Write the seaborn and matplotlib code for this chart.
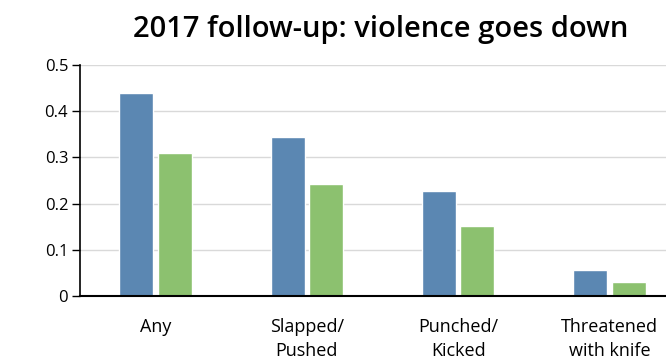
import matplotlib
matplotlib.use("Agg")
import matplotlib.pyplot as plt
import seaborn as sns
import pandas as pd

categories = ["Any", "Slapped/\nPushed", "Punched/\nKicked", "Threatened\nwith knife"]
baseline = [0.44, 0.345, 0.227, 0.057]
followup = [0.31, 0.242, 0.151, 0.030]
series_names = ["Baseline", "2017 follow-up"]
colors = ["#5B87B2", "#8CC16F"]

df = pd.DataFrame({
    "category": categories * 2,
    "value": baseline + followup,
    "series": [series_names[0]] * 4 + [series_names[1]] * 4,
})

sns.set_style("white")
plt.rcParams["font.family"] = ["Open Sans", "DejaVu Sans"]
plt.rcParams["text.color"] = "black"
plt.rcParams["xtick.color"] = "black"
plt.rcParams["ytick.color"] = "black"

fig = plt.figure(figsize=(6.66, 3.61), dpi=100)
ax = fig.add_axes([80 / 666, 1 - 296 / 361, (685 - 80) / 666, (296 - 65) / 361])

sns.barplot(data=df, x="category", y="value", hue="series", palette=colors,
            width=0.51, gap=0.12, ax=ax, legend=False, saturation=1)

ax.set_xlim(-0.5, 3.5)
ax.set_ylim(0, 0.5)
ax.set_yticks([0, 0.1, 0.2, 0.3, 0.4, 0.5])
ax.set_yticklabels(["0", "0.1", "0.2", "0.3", "0.4", "0.5"])
ax.yaxis.grid(True, color="#D9D9D9", linewidth=1)
ax.set_axisbelow(True)
ax.set_xlabel("")
ax.set_ylabel("")
for s in ["top", "right"]:
    ax.spines[s].set_visible(False)
ax.spines["left"].set_color("black")
ax.spines["bottom"].set_color("black")
ax.spines["left"].set_linewidth(1.2)
ax.spines["bottom"].set_linewidth(1.5)
ax.tick_params(axis="y", which="both", left=True, length=5.5, width=1, color="black",
               labelcolor="black", labelsize=12, pad=3)
ax.tick_params(axis="x", bottom=False, labelsize=13, pad=12, labelcolor="black")
for lab in ax.get_xticklabels():
    lab.set_linespacing(1.45)

fig.text(0.571, 0.918, "2017 follow-up: violence goes down", ha="center", va="center",
         fontsize=21, fontweight="semibold", color="black",
         family=["Open Sans", "DejaVu Sans"])

fig.savefig("out.png", dpi=100)
